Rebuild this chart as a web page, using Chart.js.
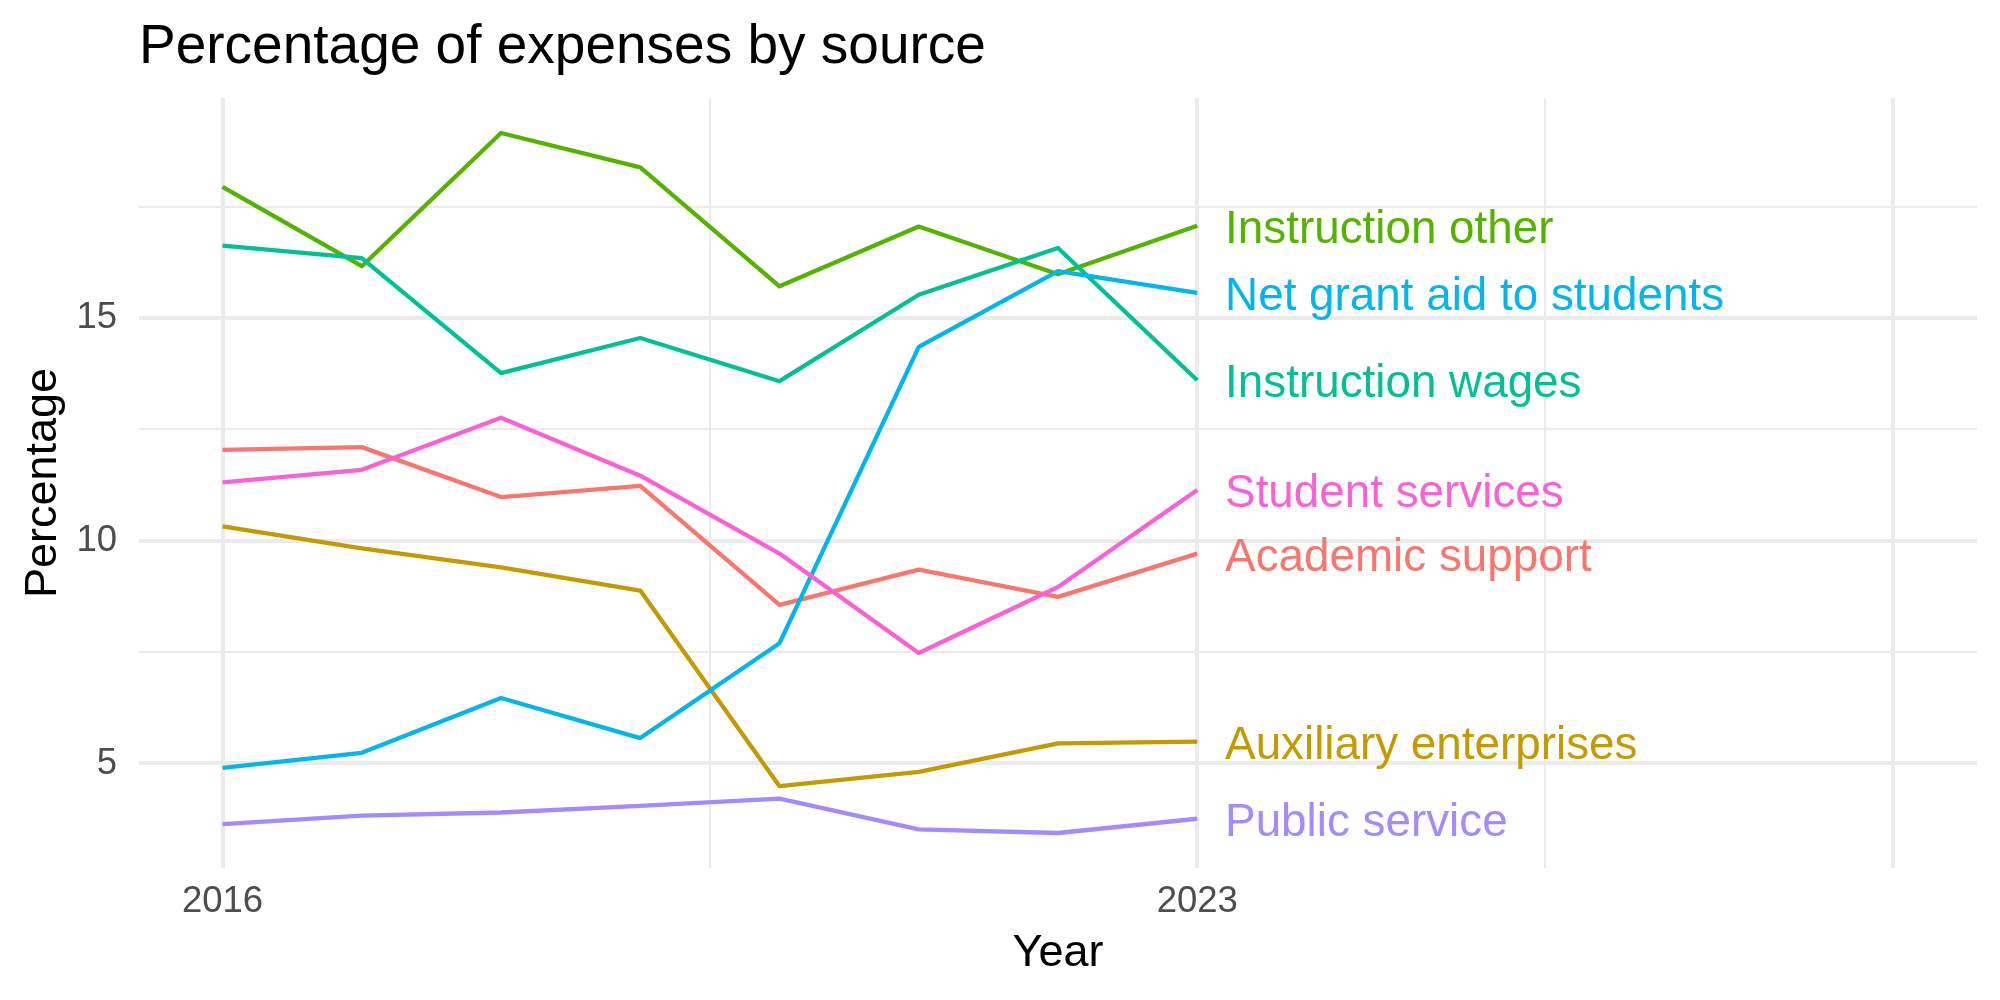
<!DOCTYPE html>
<html>
<head>
<meta charset="utf-8">
<script src="https://cdn.jsdelivr.net/npm/chart.js@4/dist/chart.umd.min.js"></script>
<style>
 body { margin: 0; background: #fff; }
</style>
</head>
<body>
<canvas id="expensesChart" width="2000" height="1000"></canvas>
<script>
const years = [2016, 2017, 2018, 2019, 2020, 2021, 2022, 2023];
const sources = [
 "Academic support",
 "Auxiliary enterprises",
 "Instruction other",
 "Instruction wages",
 "Net grant aid to students",
 "Public service",
 "Student services",
];
const academicSupport = [12.04, 12.1, 10.98, 11.23, 8.56, 9.35, 8.74, 9.71];
const auxiliaryEnterprises = [10.32, 9.83, 9.4, 8.88, 4.49, 4.81, 5.45, 5.49];
const instructionOther = [17.94, 16.16, 19.15, 18.38, 15.71, 17.05, 15.98, 17.07];
const instructionWages = [16.62, 16.34, 13.76, 14.55, 13.58, 15.52, 16.57, 13.6];
const netGrantAid = [4.9, 5.24, 6.47, 5.57, 7.7, 14.35, 16.05, 15.56];
const publicService = [3.64, 3.83, 3.9, 4.05, 4.21, 3.52, 3.44, 3.76];
const studentServices = [11.31, 11.59, 12.76, 11.46, 9.71, 7.48, 8.96, 11.14];
const seriesValues = [
 academicSupport,
 auxiliaryEnterprises,
 instructionOther,
 instructionWages,
 netGrantAid,
 publicService,
 studentServices,
];
const colors = ["#F8766D", "#C49A00", "#53B400", "#00C094", "#00B6EB", "#A58AFF", "#FB61D7"];

// axis breaks (gridlines) and which of them carry a label
const xBreaks = [2016, 2019.5, 2023, 2025.5, 2028];
const xMajor = [2016, 2023, 2028];
const xTickLabels = [2016, 2023];
const yBreaks = [5, 7.5, 10, 12.5, 15, 17.5];
const yTickLabels = [5, 10, 15];
const xLimitMax = 2028;
const labelNudge = 0.2;

const FONT = '"Liberation Sans", Arial, sans-serif';

const allValues = seriesValues.flat();
const yMinData = Math.min(...allValues);
const yMaxData = Math.max(...allValues);
const ySpan = yMaxData - yMinData;
const xSpan = xLimitMax - years[0];

const endLabels = {
 id: "endLabels",
 afterDraw(chart) {
  const { ctx, chartArea, scales } = chart;
  ctx.save();
  ctx.font = "55px " + FONT;
  ctx.fillStyle = "#000";
  ctx.textAlign = "left";
  ctx.textBaseline = "alphabetic";
  ctx.fillText("Percentage of expenses by source", chartArea.left, 63);

  // labels sit with their capitals centred on the last value
  const size = 45.8;
  ctx.font = size + "px " + FONT;
  sources.forEach((name, i) => {
   const last = years.length - 1;
   const x = scales.x.getPixelForValue(years[last] + labelNudge);
   const y = scales.y.getPixelForValue(seriesValues[i][last]);
   ctx.fillStyle = colors[i];
   ctx.fillText(name, x, y + size * 0.37);
  });
  ctx.restore();
 },
};

const ctx = document.getElementById("expensesChart").getContext("2d");
new Chart(ctx, {
 type: "line",
 data: {
  labels: years,
  datasets: sources.map((name, i) => ({
   label: name,
   data: years.map((yr, j) => ({ x: yr, y: seriesValues[i][j] })),
   borderColor: colors[i],
   borderWidth: 4.3,
   borderJoinStyle: "round",
   pointRadius: 0,
   tension: 0,
   fill: false,
   order: sources.length - i,
  })),
 },
 options: {
  responsive: false,
  animation: false,
  devicePixelRatio: 1,
  layout: { padding: { top: 98, right: 23, left: 0, bottom: 0 } },
  plugins: {
   legend: { display: false },
   title: { display: false },
   tooltip: { enabled: false },
  },
  scales: {
   x: {
    type: "linear",
    min: years[0] - 0.05 * xSpan,
    max: xLimitMax + 0.05 * xSpan,
    afterBuildTicks: (scale) => {
     scale.ticks = xBreaks.map((v) => ({ value: v }));
    },
    afterFit: (scale) => {
     scale.height = 132;
    },
    border: { display: false },
    grid: {
     color: "#EBEBEB",
     drawTicks: false,
     lineWidth: (c) => (c.tick && xMajor.includes(c.tick.value) ? 4 : 2),
    },
    ticks: {
     autoSkip: false,
     maxRotation: 0,
     padding: 12,
     color: "#4D4D4D",
     font: { family: FONT, size: 36.5 },
     callback: (v) => (xTickLabels.includes(v) ? String(v) : ""),
    },
    title: {
     display: true,
     text: "Year",
     color: "#000",
     font: { family: FONT, size: 45 },
     padding: { top: 0, bottom: 19.5 },
    },
   },
   y: {
    type: "linear",
    min: yMinData - 0.05 * ySpan,
    max: yMaxData + 0.05 * ySpan,
    afterBuildTicks: (scale) => {
     scale.ticks = yBreaks.map((v) => ({ value: v }));
    },
    afterFit: (scale) => {
     scale.width = 139;
    },
    border: { display: false },
    grid: {
     color: "#EBEBEB",
     drawTicks: false,
     lineWidth: (c) => (c.tick && yTickLabels.includes(c.tick.value) ? 4 : 2),
    },
    ticks: {
     autoSkip: false,
     padding: 22,
     color: "#4D4D4D",
     font: { family: FONT, size: 36.5 },
     callback: (v) => (yTickLabels.includes(v) ? String(v) : ""),
    },
    title: {
     display: true,
     text: "Percentage",
     color: "#000",
     font: { family: FONT, size: 45 },
     padding: { top: 17, bottom: 0 },
    },
   },
  },
 },
 plugins: [endLabels],
});
</script>
</body>
</html>
